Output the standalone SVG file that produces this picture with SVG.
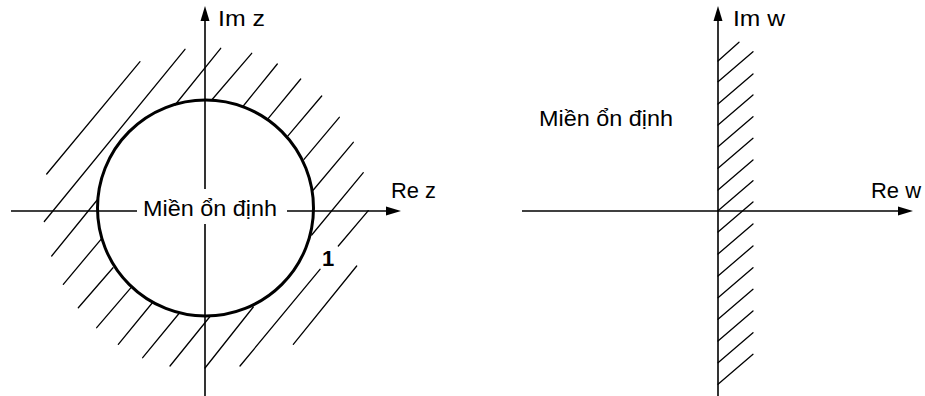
<svg xmlns="http://www.w3.org/2000/svg" width="925" height="396" viewBox="0 0 925 396">
<style>
.ax{stroke:#000;stroke-width:1.6;fill:none}
.h{stroke:#000;stroke-width:1.3;fill:none;stroke-linecap:round}
.ah{fill:#000;stroke:none}
.t{font-family:"Liberation Sans",Arial,sans-serif;font-size:22px;fill:#000}
</style>
<rect width="925" height="396" fill="#fff"/>
<g id="z-plane">
  <g id="z-hatch">
    <line class="h" x1="46.7" y1="174" x2="140" y2="61.7"/>
    <line class="h" x1="44.3" y1="221.5" x2="185" y2="49.3"/>
    <line class="h" x1="175" y1="105" x2="220.7" y2="48.3"/>
    <line class="h" x1="211.7" y1="100" x2="251.7" y2="53.3"/>
    <line class="h" x1="243.3" y1="106" x2="277.3" y2="64"/>
    <line class="h" x1="268.3" y1="118.3" x2="300.7" y2="79"/>
    <line class="h" x1="287.3" y1="136.7" x2="321.7" y2="96"/>
    <line class="h" x1="304" y1="159.3" x2="339.3" y2="117.3"/>
    <line class="h" x1="313.3" y1="190" x2="353.3" y2="142.3"/>
    <line class="h" x1="311.7" y1="235" x2="363.3" y2="172.7"/>
    <line class="h" x1="51.7" y1="256" x2="98" y2="199"/>
    <line class="h" x1="63.3" y1="284.3" x2="101" y2="239.3"/>
    <line class="h" x1="78.3" y1="307.7" x2="113" y2="267.7"/>
    <line class="h" x1="96.7" y1="327.7" x2="131" y2="287.7"/>
    <line class="h" x1="118.3" y1="344.3" x2="153" y2="302"/>
    <line class="h" x1="142.7" y1="357.7" x2="179" y2="313.5"/>
    <line class="h" x1="170" y1="366" x2="210" y2="316.5"/>
    <line class="h" x1="205" y1="368" x2="253.3" y2="307"/>
    <line class="h" x1="240" y1="366" x2="320" y2="269.3"/>
    <line class="h" x1="293.3" y1="344.3" x2="356.7" y2="266"/>
    <line class="h" x1="338.3" y1="246" x2="368.3" y2="210.7"/>
  </g>
  <g id="z-axes">
    <line class="ax" x1="11" y1="211" x2="388" y2="211"/>
    <polygon class="ah" points="401,211 386,206.5 386,215.5"/>
    <line class="ax" x1="205" y1="396" x2="205" y2="20"/>
    <polygon class="ah" points="205,6 200.5,21 209.5,21"/>
  </g>
  <circle id="unit-circle" cx="205.5" cy="208" r="108" fill="none" stroke="#000" stroke-width="3"/>
  <rect x="137" y="189" width="150" height="35" fill="#fff"/>
  <text class="t" x="210" y="215.5" text-anchor="middle" textLength="134" lengthAdjust="spacingAndGlyphs">Miền ổn định</text>
  <text class="t" x="218" y="26" textLength="47" lengthAdjust="spacingAndGlyphs">Im z</text>
  <text class="t" x="391" y="198" textLength="45" lengthAdjust="spacingAndGlyphs">Re z</text>
  <text class="t" x="328" y="266" text-anchor="middle" font-weight="bold" font-size="19">1</text>
</g>
<g id="w-plane">
  <g id="w-hatch">
    <line class="h" x1="718" y1="61" x2="739" y2="42.3"/>
    <line class="h" x1="718" y1="81.7" x2="753" y2="51.7"/>
    <line class="h" x1="718" y1="104" x2="753" y2="74"/>
    <line class="h" x1="718" y1="125" x2="753" y2="95"/>
    <line class="h" x1="718" y1="146.7" x2="753" y2="116.7"/>
    <line class="h" x1="718" y1="168.3" x2="753" y2="138.3"/>
    <line class="h" x1="718" y1="190" x2="753" y2="160"/>
    <line class="h" x1="718" y1="210.7" x2="753" y2="180.7"/>
    <line class="h" x1="718" y1="232" x2="753" y2="202"/>
    <line class="h" x1="718" y1="254" x2="753" y2="224"/>
    <line class="h" x1="718" y1="276" x2="753" y2="246"/>
    <line class="h" x1="718" y1="297.7" x2="753" y2="267.7"/>
    <line class="h" x1="718" y1="319.3" x2="753" y2="289.3"/>
    <line class="h" x1="718" y1="341" x2="753" y2="311"/>
    <line class="h" x1="718" y1="362.7" x2="753" y2="332.7"/>
    <line class="h" x1="718" y1="384.3" x2="753" y2="354.3"/>
  </g>
  <g id="w-axes">
    <line class="ax" x1="522" y1="211" x2="899" y2="211"/>
    <polygon class="ah" points="913,211 898,206.5 898,215.5"/>
    <line class="ax" x1="718" y1="396" x2="718" y2="20"/>
    <polygon class="ah" points="718,6 713.5,21 722.5,21"/>
  </g>
  <text class="t" x="606" y="125.5" text-anchor="middle" textLength="134" lengthAdjust="spacingAndGlyphs">Miền ổn định</text>
  <text class="t" x="733" y="26" textLength="52" lengthAdjust="spacingAndGlyphs">Im w</text>
  <text class="t" x="871" y="198" textLength="50" lengthAdjust="spacingAndGlyphs">Re w</text>
</g>
</svg>
